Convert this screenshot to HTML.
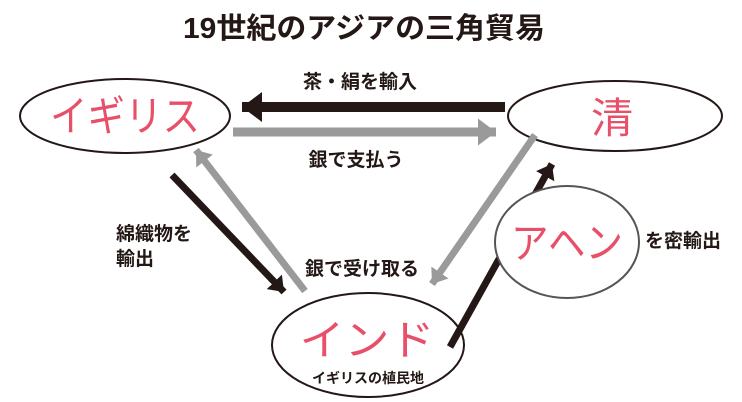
<!DOCTYPE html>
<html><head><meta charset="utf-8"><style>
html,body{margin:0;padding:0;background:#fff;}
svg{display:block;}
text{font-family:"Liberation Sans","Noto Sans CJK JP",sans-serif;}
</style></head><body>
<svg width="742" height="402" viewBox="0 0 742 402" xmlns="http://www.w3.org/2000/svg">
<defs>
<marker id="hb" markerWidth="4" markerHeight="4" refX="2" refY="2" orient="auto" markerUnits="strokeWidth"><path d="M0,0.5 L2,2 L0,3.5 Z" fill="#231815"/></marker>
<marker id="hg" markerWidth="4" markerHeight="4" refX="2" refY="2" orient="auto" markerUnits="strokeWidth"><path d="M0,0.5 L2,2 L0,3.5 Z" fill="#9a9a9a"/></marker>
</defs>
<text x="364" y="38" text-anchor="middle" font-size="29" font-weight="bold" fill="#231815" textLength="362" lengthAdjust="spacingAndGlyphs">19世紀のアジアの三角貿易</text>

<ellipse cx="125" cy="116" rx="105" ry="37" fill="none" stroke="#231815" stroke-width="2"/>
<ellipse cx="615" cy="116" rx="107" ry="35" fill="none" stroke="#231815" stroke-width="2"/>
<ellipse cx="368" cy="345" rx="96" ry="52" fill="none" stroke="#231815" stroke-width="2"/>

<line x1="505" y1="107" x2="242" y2="107" stroke="#231815" stroke-width="10" marker-end="url(#hb)"/>
<line x1="233" y1="132" x2="496" y2="132" stroke="#9a9a9a" stroke-width="9" marker-end="url(#hg)"/>
<line x1="172" y1="175" x2="284" y2="292" stroke="#231815" stroke-width="7" marker-end="url(#hb)"/>
<line x1="305" y1="291" x2="196" y2="150" stroke="#9a9a9a" stroke-width="7" marker-end="url(#hg)"/>
<line x1="535" y1="135" x2="432" y2="284" stroke="#9a9a9a" stroke-width="7" marker-end="url(#hg)"/>
<line x1="450" y1="347" x2="552" y2="164" stroke="#231815" stroke-width="7" marker-end="url(#hb)"/>

<ellipse cx="567" cy="242" rx="72" ry="56" fill="#fff" stroke="#555" stroke-width="2"/>

<g fill="#e8506a" font-size="42">
<text x="125" y="131" text-anchor="middle" textLength="150" lengthAdjust="spacingAndGlyphs">イギリス</text>
<text x="612" y="133" text-anchor="middle">清</text>
<text x="367" y="355" text-anchor="middle" textLength="135" lengthAdjust="spacingAndGlyphs">インド</text>
<text x="567" y="258" text-anchor="middle" textLength="112" lengthAdjust="spacingAndGlyphs">アヘン</text>
</g>

<g fill="#231815" font-size="19" font-weight="bold">
<text x="360" y="88" text-anchor="middle">茶・絹を輸入</text>
<text x="356" y="166" text-anchor="middle">銀で支払う</text>
<text x="116" y="240">綿織物を</text>
<text x="116" y="265">輸出</text>
<text x="362" y="275" text-anchor="middle">銀で受け取る</text>
<text x="645" y="247">を密輸出</text>
<text x="368" y="383" text-anchor="middle" font-size="14">イギリスの植民地</text>
</g>
</svg>
</body></html>
